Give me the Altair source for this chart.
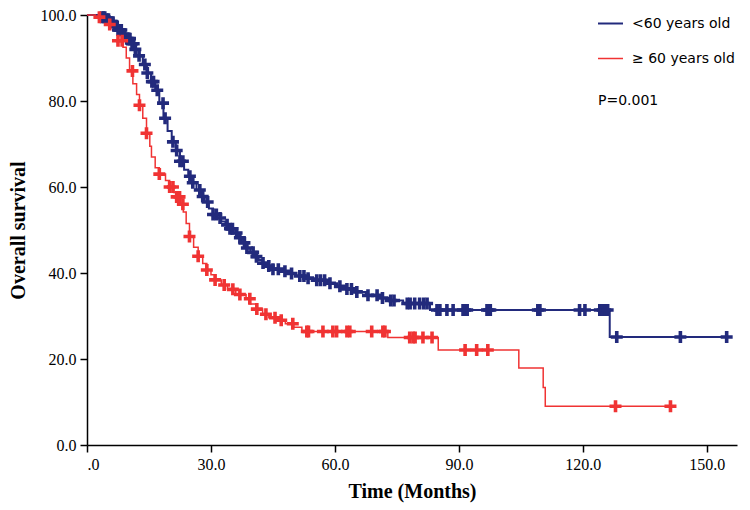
import altair as alt
import pandas as pd
import numpy as np

groups = ["<60 years old", "≥ 60 years old"]
colors = ["#222a7c", "#f03333"]

# Kaplan-Meier steps, group <60
young_time = [0, 3, 4.5, 5.5, 6.5, 7.5, 8.5, 9.5, 10.5, 11.5, 12.5, 13.5, 14.5, 15.5, 16.5,
              17.5, 18.5, 19.5, 20.5, 21.5, 22.5, 23.5, 24.5, 25.5, 26.5, 27.5, 28.5, 29.5,
              30.5, 31.5, 32.5, 33.5, 34.5, 35.5, 36.5, 37.5, 38.5, 39.5, 40.5, 41.5, 42.5,
              43.5, 45, 46.5, 48.5, 50.5, 53, 55.5, 58, 60.5, 62.5, 65, 67.5, 71, 73, 76.5,
              83, 126.5]
young_surv = [100, 99.5, 99, 98.3, 97.5, 96.5, 95.5, 94.5, 93.3, 92, 90.5, 88.5, 86.5, 84.5,
              82.5, 79.5, 76, 73, 70.5, 68.5, 66, 64, 62.5, 61, 59.3, 57.8, 56.5, 55, 53.6,
              52.8, 52, 51.2, 50.3, 49.3, 48.2, 47, 45.8, 44.8, 43.8, 43, 42.3, 41.6, 40.9,
              40.4, 39.9, 39.3, 38.8, 38.3, 37.6, 36.9, 36.3, 35.6, 34.8, 34.2, 33.6, 32.9,
              31.4, 25.1]
young_end = 155.0
young_cens = [3.5, 4, 4.3, 4.8, 5.2, 5.6, 6, 6.3, 6.8, 7.1, 7.5, 7.9, 8.3, 8.7, 9.1, 9.6, 10,
              10.4, 10.9, 11.3, 11.7, 12.6, 14, 14.6, 15.7, 16.1, 17, 18.4, 18.9, 20.8, 21.7,
              22.5, 23.2, 24.9, 25.6, 27.3, 28, 29.2, 30.5, 31.3, 32.2, 33.9, 34.6, 35.2, 36.2,
              37, 38.1, 38.7, 40.2, 41, 42.6, 44, 45, 46.3, 47.9, 49.5, 51.5, 52.5, 53.5, 55.6,
              56.5, 57.5, 58.8, 61.2, 62.9, 64, 65.3, 68, 70.2, 71.5, 73.5, 74.3, 77.5, 78.2,
              79.3, 80.5, 81.5, 82.3, 84.7, 85.4, 87.1, 88.6, 91, 91.5, 92, 96.8, 97.2, 97.6,
              109.1, 109.6, 119.2, 120.5, 124.1, 124.8, 125.4, 126, 128.2, 143.6, 154.8]

# Kaplan-Meier steps, group >=60
old_time = [0, 2, 3.5, 5, 6.5, 7.5, 8.7, 9.5, 10.3, 11.1, 12, 12.7, 13.5, 14.4, 15.2, 15.6,
            16.5, 17.5, 19, 20, 21, 21.7, 22.5, 23.3, 24, 24.8, 25.8, 26.9, 28, 29, 30, 31,
            32.5, 34, 36, 38.5, 39.5, 41, 42.5, 44, 46, 48, 50, 52, 72.8, 85, 104.5, 110.4,
            110.9]
old_surv = [100, 99.5, 98.8, 97.8, 96.5, 94, 92.5, 90, 87, 84, 81.5, 79, 76, 72.5, 69.5, 67,
            64.5, 63, 61.5, 60, 58.7, 57.7, 56, 54.2, 51.5, 48.5, 46, 43.9, 42.2, 40.7, 39.6,
            38.4, 37.2, 36.2, 35, 34, 32.8, 31.6, 30.4, 29.6, 29, 28.2, 27.4, 26.4, 25, 22.1,
            17.9, 13.4, 9.0]
old_end = 141.3
old_cens = [3, 5.5, 7.5, 8.5, 11, 12.7, 14.4, 17.5, 20, 20.8, 21.7, 22.4, 23.2, 24.8, 26.9,
            29, 31, 33.2, 35.3, 37, 39.4, 41.1, 43.3, 45.5, 47, 49.8, 53.2, 53.6, 57.1, 59.5,
            60.4, 62.9, 63.6, 68.9, 71.6, 72.1, 78.1, 78.9, 79.4, 81.3, 83.5, 91.5, 94.3, 97,
            127.9, 141.2]

x_ticks = [0, 30, 60, 90, 120, 150]
y_ticks = [0, 20, 40, 60, 80, 100]


def step_rows(group, times, survs, end):
    rows = [{"group": group, "t": t, "s": s} for t, s in zip(times, survs)]
    rows.append({"group": group, "t": end, "s": survs[-1]})
    return rows


def cens_rows(group, times, survs, cens):
    tt = np.array(times)
    out = []
    for c in cens:
        i = int(np.searchsorted(tt, c, side="right")) - 1
        out.append({"group": group, "t": c, "s": survs[i]})
    return out


lines = pd.DataFrame(step_rows(groups[0], young_time, young_surv, young_end)
                     + step_rows(groups[1], old_time, old_surv, old_end))
cens = pd.DataFrame(cens_rows(groups[0], young_time, young_surv, young_cens)
                    + cens_rows(groups[1], old_time, old_surv, old_cens))

xs = alt.Scale(domain=[0, 157.3], nice=False, zero=True)
ys = alt.Scale(domain=[0, 100], nice=False)

x_enc = alt.X("t:Q", scale=xs, axis=alt.Axis(
    values=x_ticks, grid=False, title="Time (Months)",
    labelExpr="datum.value == 0 ? '.0' : format(datum.value, '.1f')",
    labelPadding=4, titlePadding=9))
y_enc = alt.Y("s:Q", scale=ys, axis=alt.Axis(
    values=y_ticks, grid=False, format=".1f", title="Overall survival",
    labelPadding=4, titlePadding=12))

line_layer = alt.Chart(lines).mark_line(interpolate="step-after").encode(
    x=x_enc, y=y_enc,
    color=alt.Color("group:N", scale=alt.Scale(domain=groups, range=colors),
                    legend=alt.Legend(orient="none", legendX=510, legendY=-5, title=None,
                                      symbolType="stroke", symbolSize=625,
                                      symbolStrokeWidth=2, labelFont="DejaVu Sans",
                                      labelFontSize=14, labelColor="black",
                                      rowPadding=14, labelOffset=8, padding=0)),
    strokeWidth=alt.StrokeWidth("group:N", scale=alt.Scale(domain=groups, range=[2, 1.5]),
                                legend=None),
    order=alt.Order("t:Q"),
)

plus_path = "M-1,-0.3H1V0.3H-1Z M-0.3,-1H0.3V1H-0.3Z"
cens_layer = alt.Chart(cens).mark_point(shape=plus_path, filled=True, size=144,
                                        opacity=1, strokeWidth=0).encode(
    x="t:Q", y="s:Q",
    fill=alt.Fill("group:N", scale=alt.Scale(domain=groups, range=colors), legend=None),
)

ptext = alt.Chart(pd.DataFrame({"label": ["P=0.001"]})).mark_text(
    align="left", baseline="middle", font="DejaVu Sans", fontSize=14, color="black"
).encode(x=alt.value(511), y=alt.value(86), text="label:N")

chart = alt.layer(line_layer, cens_layer, ptext).properties(
    width=650, height=430,
    autosize=alt.AutoSizeParams(type="none"),
    padding={"left": 79, "top": 7, "right": 3, "bottom": 60},
).configure_view(stroke=None).configure_axis(
    domainColor="black", domainWidth=1.5, tickColor="black", tickWidth=1.5, tickSize=7,
    labelFont="Liberation Serif", labelFontSize=16, labelColor="black",
    titleFont="Liberation Serif", titleFontSize=20, titleFontWeight="bold", titleColor="black",
)

chart.save("out.html", embed_options={"renderer": "svg", "actions": False})
